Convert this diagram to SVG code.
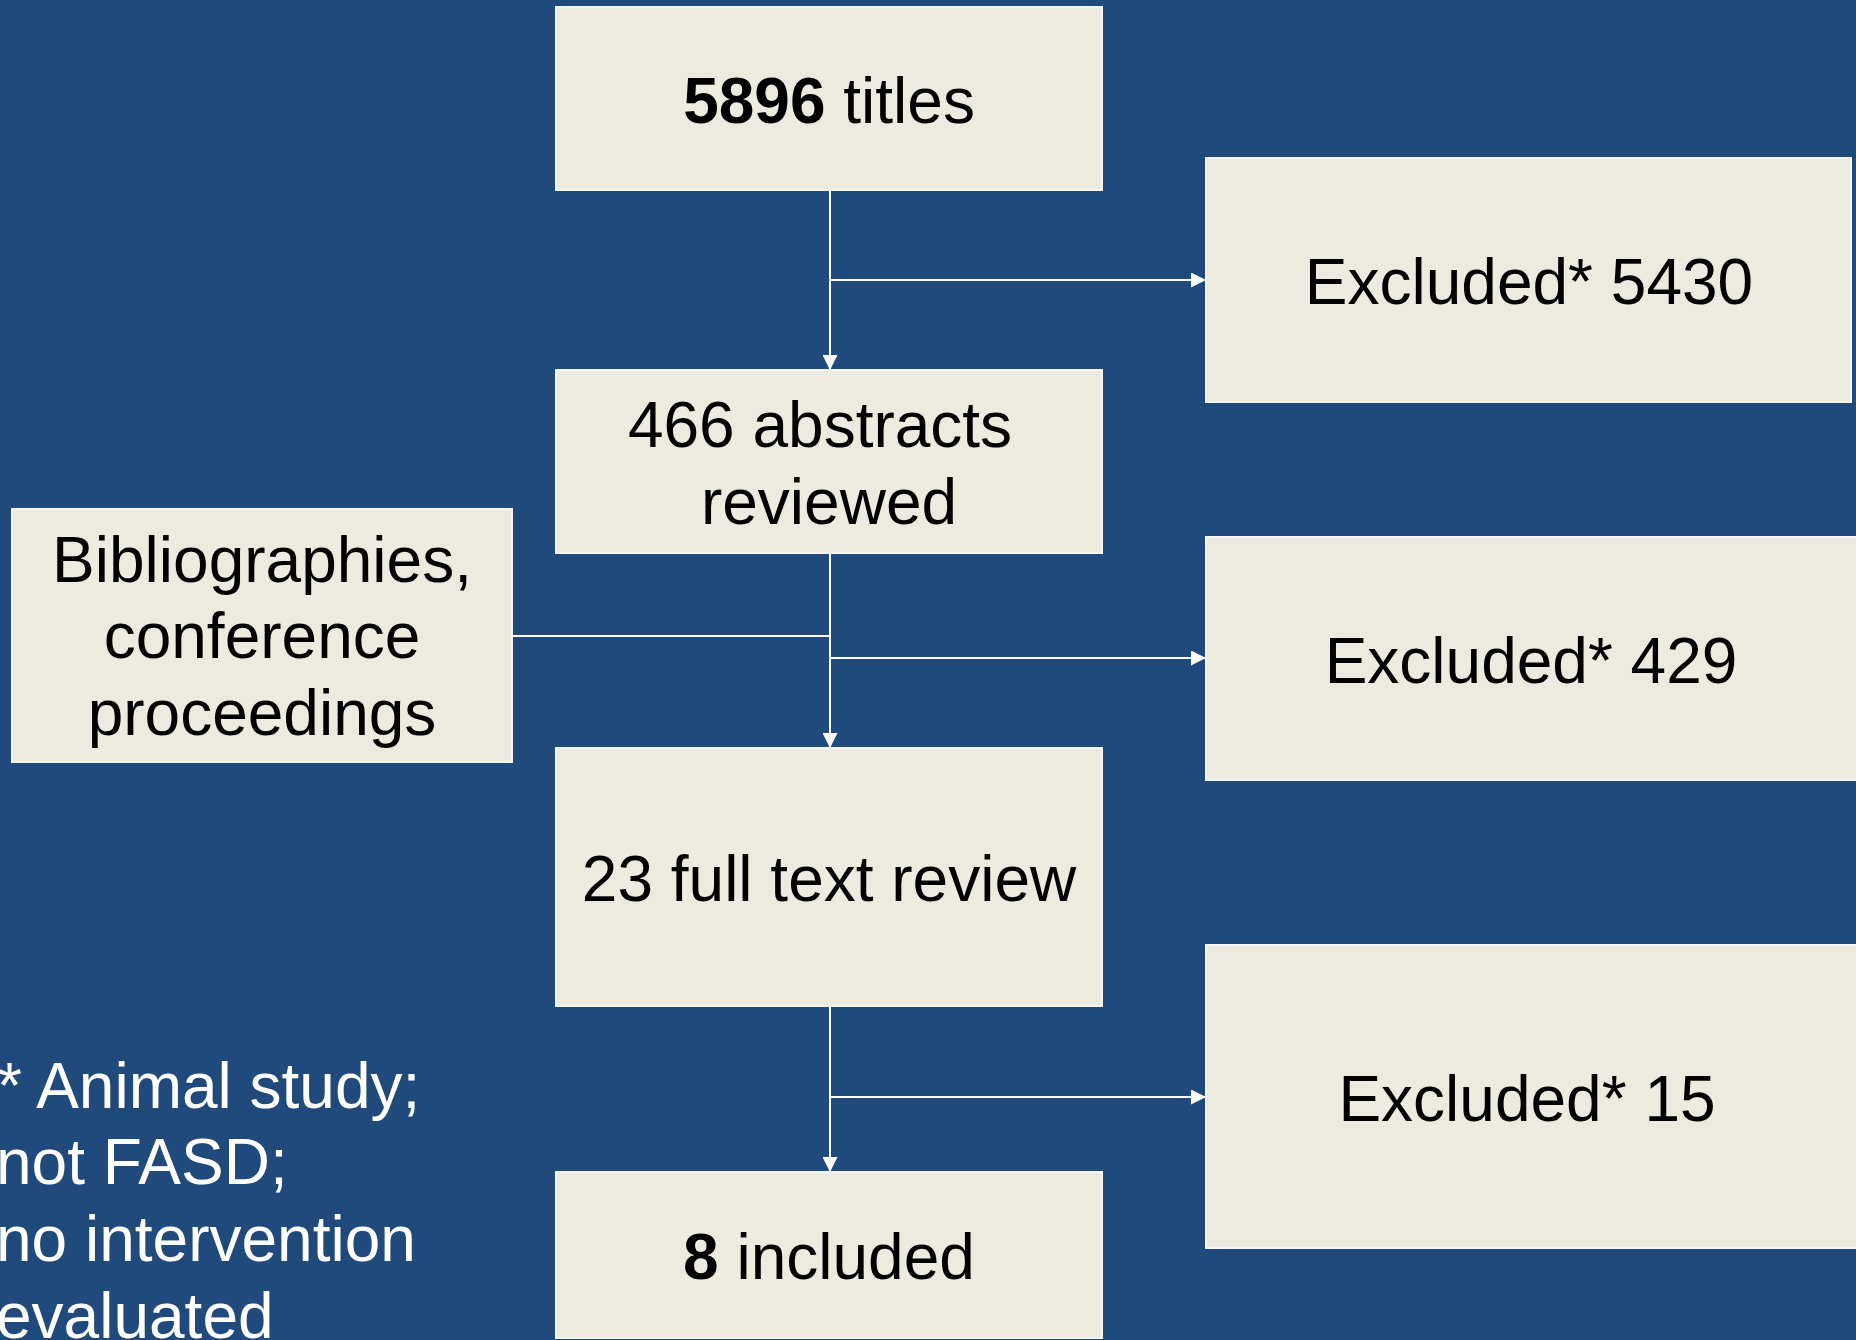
<svg xmlns="http://www.w3.org/2000/svg" width="1856" height="1340" viewBox="0 0 1856 1340">
  <defs>
    <style>
      .box { fill: #edebe0; stroke: #f4f6fa; stroke-width: 2; }
      .lbl { font-family: "Liberation Sans", Arial, sans-serif; font-size: 64px; fill: #000; text-anchor: middle; }
      .note { font-family: "Liberation Sans", Arial, sans-serif; font-size: 64px; fill: #ffffff; }
      .b { font-weight: bold; }
      .wire { stroke: #ffffff; stroke-width: 2; fill: none; }
    </style>
    <marker id="arrow" markerUnits="userSpaceOnUse" markerWidth="15" markerHeight="15" refX="15" refY="7.5" orient="auto">
      <path d="M0,0 L15,7.5 L0,15 z" fill="#ffffff"/>
    </marker>
  </defs>

  <!-- background -->
  <rect x="0" y="0" width="1856" height="1340" fill="#214a7c"/>

  <!-- connectors -->
  <g id="connectors">
    <line class="wire" x1="830" y1="190" x2="830" y2="370" marker-end="url(#arrow)"/>
    <line class="wire" x1="830" y1="280" x2="1206" y2="280" marker-end="url(#arrow)"/>
    <line class="wire" x1="830" y1="553" x2="830" y2="748" marker-end="url(#arrow)"/>
    <line class="wire" x1="512" y1="636" x2="830" y2="636"/>
    <line class="wire" x1="830" y1="658" x2="1206" y2="658" marker-end="url(#arrow)"/>
    <line class="wire" x1="830" y1="1006" x2="830" y2="1172" marker-end="url(#arrow)"/>
    <line class="wire" x1="830" y1="1097" x2="1206" y2="1097" marker-end="url(#arrow)"/>
  </g>

  <g id="titles">
    <rect class="box" x="556" y="7" width="546" height="183"/>
    <text class="lbl" x="829" y="123"><tspan class="b">5896</tspan> titles</text>
  </g>

  <g id="excluded-titles">
    <rect class="box" x="1206" y="158" width="645" height="244"/>
    <text class="lbl" x="1529" y="304">Excluded* 5430</text>
  </g>

  <g id="abstracts">
    <rect class="box" x="556" y="370" width="546" height="183"/>
    <text class="lbl" x="820" y="447">466 abstracts</text>
    <text class="lbl" x="829" y="524">reviewed</text>
  </g>

  <g id="other-sources">
    <rect class="box" x="12" y="509" width="500" height="253"/>
    <text class="lbl" x="262" y="582">Bibliographies,</text>
    <text class="lbl" x="262" y="658">conference</text>
    <text class="lbl" x="262" y="735">proceedings</text>
  </g>

  <g id="excluded-abstracts">
    <rect class="box" x="1206" y="537" width="662" height="243"/>
    <text class="lbl" x="1531" y="683">Excluded* 429</text>
  </g>

  <g id="full-text">
    <rect class="box" x="556" y="748" width="546" height="258"/>
    <text class="lbl" x="829" y="901">23 full text review</text>
  </g>

  <g id="excluded-full-text">
    <rect class="box" x="1206" y="945" width="662" height="303"/>
    <text class="lbl" x="1527" y="1121">Excluded* 15</text>
  </g>

  <g id="included">
    <rect class="box" x="556" y="1172" width="546" height="166"/>
    <text class="lbl" x="829" y="1279"><tspan class="b">8</tspan> included</text>
  </g>

  <g id="footnote">
    <text class="note" x="-3" y="1108">* Animal study;</text>
    <text class="note" x="-4" y="1184">not FASD;</text>
    <text class="note" x="-4" y="1261">no intervention</text>
    <text class="note" x="-4" y="1338">evaluated</text>
  </g>
</svg>
